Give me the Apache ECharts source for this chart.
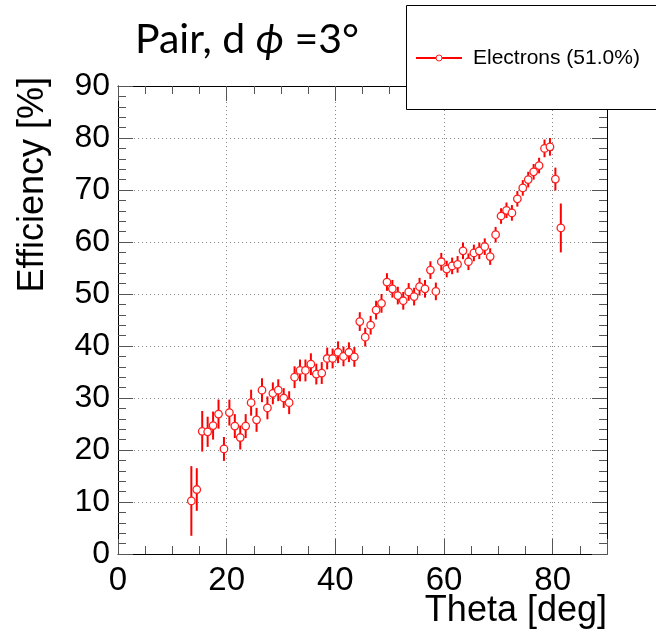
<!DOCTYPE html>
<html>
<head>
<meta charset="utf-8">
<script src="https://cdn.jsdelivr.net/npm/echarts@6/dist/echarts.min.js"></script>
<style>html,body{margin:0;padding:0;background:#fff;}#c{width:656px;height:633px;}</style>
</head>
<body>
<div id="c"></div>
<script>
// Bin centres (Theta, deg)
var theta = [13.5,14.5,15.5,16.5,17.5,18.5,19.5,20.5,21.5,22.5,23.5,24.5,25.5,26.5,27.5,28.5,29.5,30.5,31.5,32.5,33.5,34.5,35.5,36.5,37.5,38.5,39.5,40.5,41.5,42.5,43.5,44.5,45.5,46.5,47.5,48.5,49.5,50.5,51.5,52.5,53.5,54.5,55.5,56.5,57.5,58.5,59.5,60.5,61.5,62.5,63.5,64.5,65.5,66.5,67.5,68.5,69.5,70.5,71.5,72.5,73.5,74.5,75.5,76.5,77.5,78.5,79.5,80.5,81.5];
// Efficiency [%]
var efficiency = [10.2,12.4,23.6,23.5,24.7,26.9,20.2,27.2,24.6,22.4,24.6,29.1,25.8,31.5,28.1,30.9,31.5,30.0,29.1,34.0,35.3,35.3,36.5,34.6,34.8,37.6,37.6,38.8,38.0,38.8,37.9,44.7,41.7,44.0,46.9,48.2,52.3,51.0,49.7,48.7,50.4,49.5,51.4,51.0,54.6,50.5,56.2,54.8,55.4,55.7,58.3,56.2,57.9,58.3,59.1,57.2,61.4,65.0,66.1,65.6,68.3,70.4,72.0,73.5,74.7,78.0,78.3,72.1,62.7];
// Symmetric errors [%]
var errors = [6.7,4.1,3.9,2.9,2.7,2.8,2.3,2.5,2.3,2.3,2.3,2.5,2.3,2.3,2.2,2.1,2.1,1.9,2.2,2.1,2.1,2.1,2.1,2.0,2.1,2.1,1.9,2.1,1.9,1.9,1.9,1.8,1.8,1.8,1.8,1.8,1.7,1.7,1.7,1.7,1.7,1.7,1.7,1.7,1.7,1.7,1.7,1.6,1.6,1.6,1.6,1.6,1.6,1.6,1.6,1.6,1.5,1.5,1.5,1.5,1.5,1.5,1.5,1.5,1.5,1.7,1.7,2.2,4.7];
var xTicks = [0,20,40,60,80];
var yTicks = [0,10,20,30,40,50,60,70,80,90];
var legendLabel = 'Electrons (51.0%)';
var xTitle = 'Theta [deg]';

var pts = theta.map(function(t,i){return [t, efficiency[i]];});
var errData = theta.map(function(t,i){return [t, efficiency[i]-errors[i], efficiency[i]+errors[i]];});

var FONT = '"Liberation Sans", Arial, sans-serif';
var chart = echarts.init(document.getElementById('c'), null, {renderer:'canvas'});

var axisCommon = {
  axisLine:{show:true,onZero:false,lineStyle:{color:'#000',width:1}},
  axisTick:{show:true,inside:true,length:15,lineStyle:{color:'#555',width:1}},
  minorTick:{show:true,length:8,lineStyle:{color:'#555',width:1}}
};

var option = {
  animation:false,
  backgroundColor:'#fff',
  title:{
    text:'Pair, d {phi|ϕ} =3°',
    left:130, top:14,
    textStyle:{fontFamily:'Lato, "Open Sans", sans-serif',fontSize:41,fontWeight:'normal',color:'#000',
      rich:{phi:{fontFamily:'Lato, "Open Sans", sans-serif',fontSize:41,fontStyle:'italic',color:'#000'}}}
  },
  grid:{left:118, top:86, right:49, bottom:79, containLabel:false, outerBoundsMode:'none'},
  xAxis:[
    Object.assign({}, axisCommon, {
      type:'value', min:0, max:90, interval:20, position:'bottom',
      minorTick:{show:true,splitNumber:4,length:8,lineStyle:{color:'#555',width:1}},
      axisLabel:{show:true,margin:10,fontFamily:FONT,fontSize:33,color:'#000',
        formatter:function(v){return xTicks.indexOf(v)>=0 ? String(v) : '';}},
      splitLine:{show:true,lineStyle:{color:'#888',type:[1,3],width:1}}
    }),
    Object.assign({}, axisCommon, {
      type:'value', min:0, max:90, interval:20, position:'top',
      minorTick:{show:true,splitNumber:4,length:8,lineStyle:{color:'#555',width:1}},
      axisLabel:{show:false}, splitLine:{show:false}
    })
  ],
  yAxis:[
    Object.assign({}, axisCommon, {
      type:'value', min:0, max:90, interval:10, position:'left',
      minorTick:{show:true,splitNumber:5,length:8,lineStyle:{color:'#555',width:1}},
      axisLabel:{show:true,margin:8,fontFamily:FONT,fontSize:32,color:'#000',
        formatter:function(v){return yTicks.indexOf(v)>=0 ? String(v) : '';}},
      splitLine:{show:true,lineStyle:{color:'#888',type:[1,3],width:1}},
      name:'Efficiency [%]', nameLocation:'end', nameRotate:90, nameGap:9,
      nameTextStyle:{fontFamily:FONT,fontSize:36,color:'#000',align:'right',verticalAlign:'bottom',padding:[0,0,67,0]}
    }),
    Object.assign({}, axisCommon, {
      type:'value', min:0, max:90, interval:10, position:'right',
      minorTick:{show:true,splitNumber:5,length:8,lineStyle:{color:'#555',width:1}},
      axisLabel:{show:false}, splitLine:{show:false}
    })
  ],
  series:[
    {
      type:'custom', xAxisIndex:0, yAxisIndex:0, data:errData, z:3,
      renderItem:function(params, api){
        var lo = api.coord([api.value(0), api.value(1)]);
        var hi = api.coord([api.value(0), api.value(2)]);
        return {type:'line', shape:{x1:lo[0],y1:lo[1],x2:hi[0],y2:hi[1]}, style:{stroke:'#ff0000',lineWidth:2}};
      },
      encode:{x:0,y:[1,2]}
    },
    {
      type:'scatter', xAxisIndex:0, yAxisIndex:0, data:pts, z:4,
      symbol:'circle', symbolSize:7.5,
      itemStyle:{color:'#fff',borderColor:'#ff2020',borderWidth:1.3,opacity:1}
    }
  ],
  graphic:[
    {type:'text', z:50, x:607, y:593, style:{text:xTitle, font:'36px "Liberation Sans", Arial, sans-serif', fill:'#000', align:'right', verticalAlign:'top'}},
    {type:'rect', z:100, shape:{x:406.5,y:5.5,width:260,height:104}, style:{fill:'#fff',stroke:'#000',lineWidth:1}},
    {type:'line', z:101, shape:{x1:416,y1:58,x2:462,y2:58}, style:{stroke:'#ff0000',lineWidth:2}},
    {type:'circle', z:102, shape:{cx:439,cy:58,r:3}, style:{fill:'#fff',stroke:'#ff2020',lineWidth:1}},
    {type:'text', z:102, x:473, y:58, style:{text:legendLabel, font:'21px "Liberation Sans", Arial, sans-serif', fill:'#000', verticalAlign:'middle', align:'left'}}
  ]
};
chart.setOption(option);
</script>
</body>
</html>
